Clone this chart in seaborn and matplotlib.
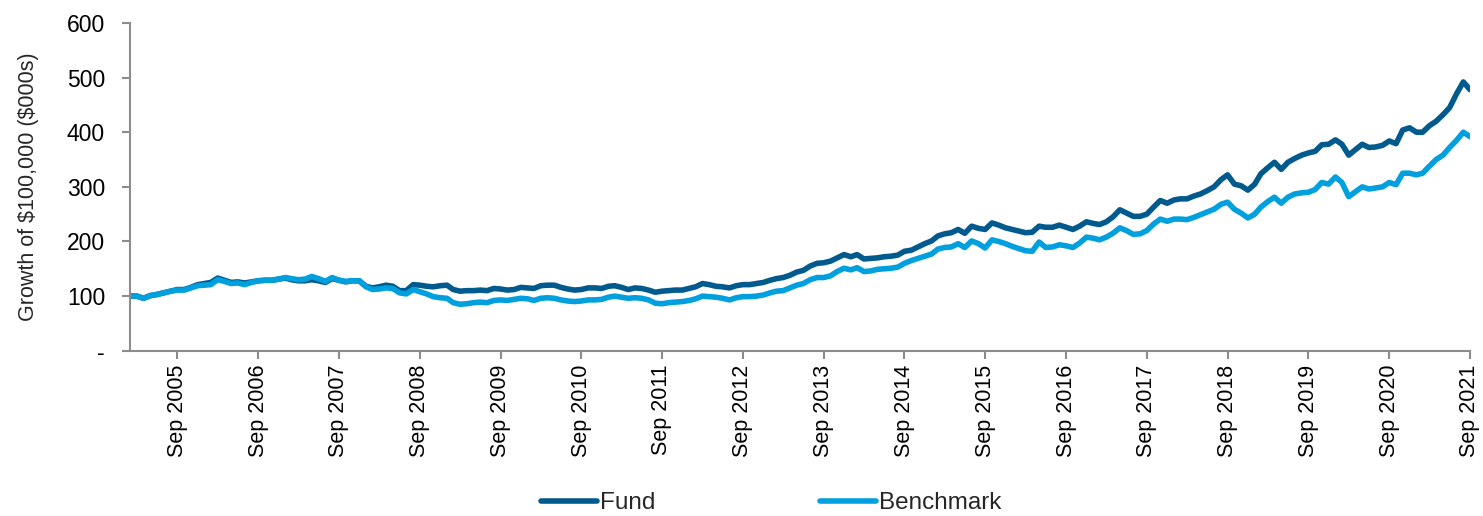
import pandas as pd
import numpy as np
import matplotlib
matplotlib.use("Agg")
import matplotlib.pyplot as plt
import matplotlib.dates as mdates
import seaborn as sns

# monthly growth of $100,000 ($000s), Feb 2005 - Sep 2021
months = pd.date_range("2005-02-28", periods=200, freq="ME")

fund = [
    100, 100, 96, 101, 103, 106, 109, 112, 112, 116, 121, 123,
    125, 133, 129, 125, 126, 124, 126, 128, 129, 129, 131, 133,
    130, 128, 128, 130, 128, 125, 132, 129, 126, 128, 128, 118,
    115, 117, 120, 118, 110, 110, 121, 120, 118, 117, 119, 120,
    112, 109, 110, 110, 111, 110, 114, 113, 111, 112, 116, 115,
    114, 119, 120, 120, 116, 113, 111, 112, 115, 115, 114, 118,
    119, 116, 112, 115, 114, 111, 107, 109, 110, 111, 111, 114,
    117, 123, 121, 118, 117, 115, 119, 121, 121, 123, 125, 129,
    132, 134, 138, 144, 147, 155, 160, 161, 164, 170, 176, 172,
    176, 168, 169, 170, 172, 173, 175, 182, 184, 190, 196, 201,
    210, 214, 216, 222, 215, 228, 224, 222, 234, 230, 225, 222,
    219, 216, 217, 228, 226, 226, 230, 226, 222, 228, 236, 233,
    231, 236, 245, 258, 252, 246, 246, 250, 263, 275, 270, 276,
    278, 278, 283, 287, 293, 300, 313, 322, 305, 302, 294, 305,
    324, 335, 345, 332, 345, 352, 358, 362, 365, 377, 378, 386,
    378, 358, 368, 378, 372, 373, 376, 384, 379, 404, 408, 400,
    400, 412, 420, 432, 445, 470, 492, 478,
]

benchmark = [
    100, 100, 96, 101, 103, 106, 109, 111, 111, 115, 119, 120,
    121, 130, 127, 123, 124, 121, 125, 128, 129, 129, 131, 134,
    132, 130, 131, 136, 132, 127, 134, 129, 127, 128, 128, 117,
    112, 113, 115, 114, 106, 104, 112, 108, 104, 99, 97, 96,
    88, 85, 86, 88, 89, 88, 92, 93, 92, 94, 96, 95,
    92, 96, 97, 96, 93, 91, 90, 91, 93, 93, 94, 98,
    100, 98, 96, 97, 96, 93, 87, 86, 88, 89, 90, 92,
    95, 100, 99, 98, 96, 93, 97, 99, 99, 100, 102, 106,
    109, 110, 115, 120, 123, 130, 134, 134, 137, 145, 151, 148,
    152, 145, 146, 149, 150, 151, 153, 160, 165, 169, 173, 177,
    186, 189, 190, 196, 189, 201, 196, 188, 203, 200, 196, 191,
    187, 183, 182, 199, 189, 190, 194, 192, 189, 197, 208, 206,
    203, 208, 215, 225, 220, 213, 214, 220, 232, 241, 237, 241,
    241, 240, 244, 249, 254, 259, 268, 272, 259, 252, 243, 250,
    263, 273, 281, 270, 281, 287, 289, 290, 295, 308, 305, 318,
    308, 282, 291, 300, 296, 298, 300, 308, 304, 325, 325, 322,
    325, 338, 350, 358, 372, 385, 400, 392,
]

series_names = ["Fund", "Benchmark"]
colors = ["#005a8e", "#00a0de"]
y_ticks = [0, 100, 200, 300, 400, 500, 600]
y_tick_labels = ["-", "100", "200", "300", "400", "500", "600"]

df = pd.DataFrame({
    "Date": np.concatenate([months, months]),
    "Value": fund + benchmark,
    "Series": ["Fund"] * len(fund) + ["Benchmark"] * len(benchmark),
})

sns.set_theme(style="white")
plt.rcParams["font.family"] = ["Liberation Sans", "DejaVu Sans"]

fig = plt.figure(figsize=(14.83, 5.16), dpi=100)
ax = fig.add_axes([0.0877, 0.3203, 0.9035, 0.6352])

sns.lineplot(data=df, x="Date", y="Value", hue="Series", hue_order=series_names,
             palette=colors, linewidth=4, ax=ax)

ax.set_xlim(months[0], months[-1])
ax.set_ylim(0, 600)
ax.set_yticks(y_ticks)
ax.set_yticklabels(y_tick_labels)

sep_ticks = [d for d in months if d.month == 9]
ax.set_xticks(sep_ticks)
ax.xaxis.set_major_formatter(mdates.DateFormatter("%b %Y"))
plt.setp(ax.get_xticklabels(), rotation=90)

ax.set_xlabel("")
ax.set_ylabel("Growth of \\$100,000 (\\$000s)", fontsize=15.5, labelpad=20)

for side in ["top", "right"]:
    ax.spines[side].set_visible(False)
for side in ["left", "bottom"]:
    ax.spines[side].set_color("#8c8c8c")
    ax.spines[side].set_linewidth(1.5)

ax.tick_params(axis="both", which="major", direction="out", length=6, width=1.5,
               color="#8c8c8c", labelcolor="black")
ax.tick_params(axis="y", pad=12, labelsize=16.5)
ax.tick_params(axis="x", pad=4, labelsize=15.5)
ax.tick_params(left=True, bottom=True)

handles, labels = ax.get_legend_handles_labels()
ax.get_legend().remove()
fig.legend(handles, labels, loc="center", bbox_to_anchor=(0.52, 0.025), ncol=2,
           frameon=False, fontsize=17.5, handlelength=2.3, handletextpad=0.1,
           columnspacing=6.8)

fig.savefig("out.png", dpi=100)
